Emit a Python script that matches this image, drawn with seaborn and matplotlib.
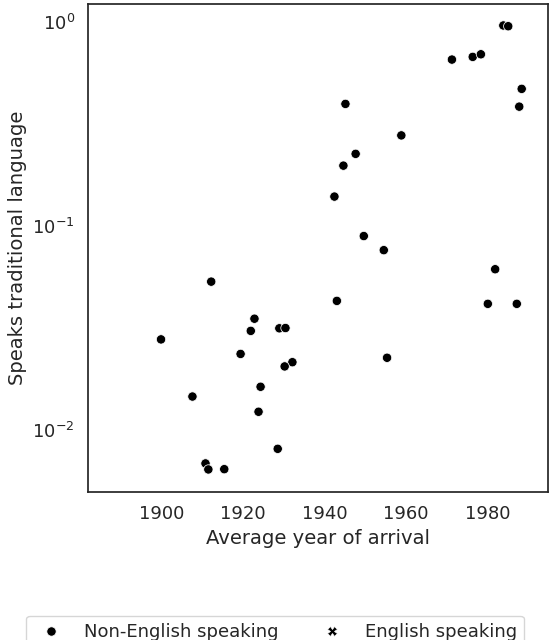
import numpy as np
import pandas as pd
import matplotlib
matplotlib.use("Agg")
import matplotlib.pyplot as plt
import seaborn as sns

# values
year = [1983.8, 1985.0, 1971.2, 1976.3, 1978.3, 1988.3, 1987.7, 1945.1, 1958.8,
        1947.6, 1944.6, 1942.4, 1949.6, 1954.5, 1981.8, 1912.2, 1943.0, 1980.0,
        1987.1, 1922.8, 1928.9, 1930.4, 1921.9, 1899.9, 1919.4, 1932.1, 1930.2,
        1955.3, 1924.3, 1907.6, 1923.8, 1928.5, 1910.8, 1911.5, 1915.4]
speaks = [0.956, 0.948, 0.651, 0.671, 0.691, 0.468, 0.383, 0.395, 0.277,
          0.225, 0.197, 0.139, 0.0891, 0.0760, 0.0613, 0.0533, 0.0429, 0.0415,
          0.0415, 0.0351, 0.0315, 0.0316, 0.0306, 0.0278, 0.0236, 0.0215, 0.0205,
          0.0226, 0.0163, 0.0146, 0.0123, 0.0081, 0.00687, 0.00642, 0.00644]
groups = ["Non-English speaking", "English speaking"]

df = pd.DataFrame({"year": year, "speaks": speaks, "group": groups[0]})

sns.set_theme(style="white", context="notebook", font_scale=1.18)
plt.rcParams["font.family"] = ["DejaVu Sans"]

fig, ax = plt.subplots(figsize=(5.5, 6.4), dpi=100)
fig.subplots_adjust(left=0.16, right=0.996, top=0.994, bottom=0.231)

sns.scatterplot(data=df, x="year", y="speaks", style="group", style_order=groups,
                color="black", s=45, ax=ax)
ax.set_yscale("log")
ax.set_xlim(1882, 1994.7)
ax.set_ylim(0.00497, 1.22)
ax.set_xticks([1900, 1920, 1940, 1960, 1980])
ax.set_xlabel("Average year of arrival")
ax.set_ylabel("Speaks traditional language")

sns.move_legend(ax, "center", bbox_to_anchor=(0.5, 0.0125), bbox_transform=fig.transFigure,
                ncol=2, title=None, frameon=True)

fig.savefig("out.png", dpi=100)
